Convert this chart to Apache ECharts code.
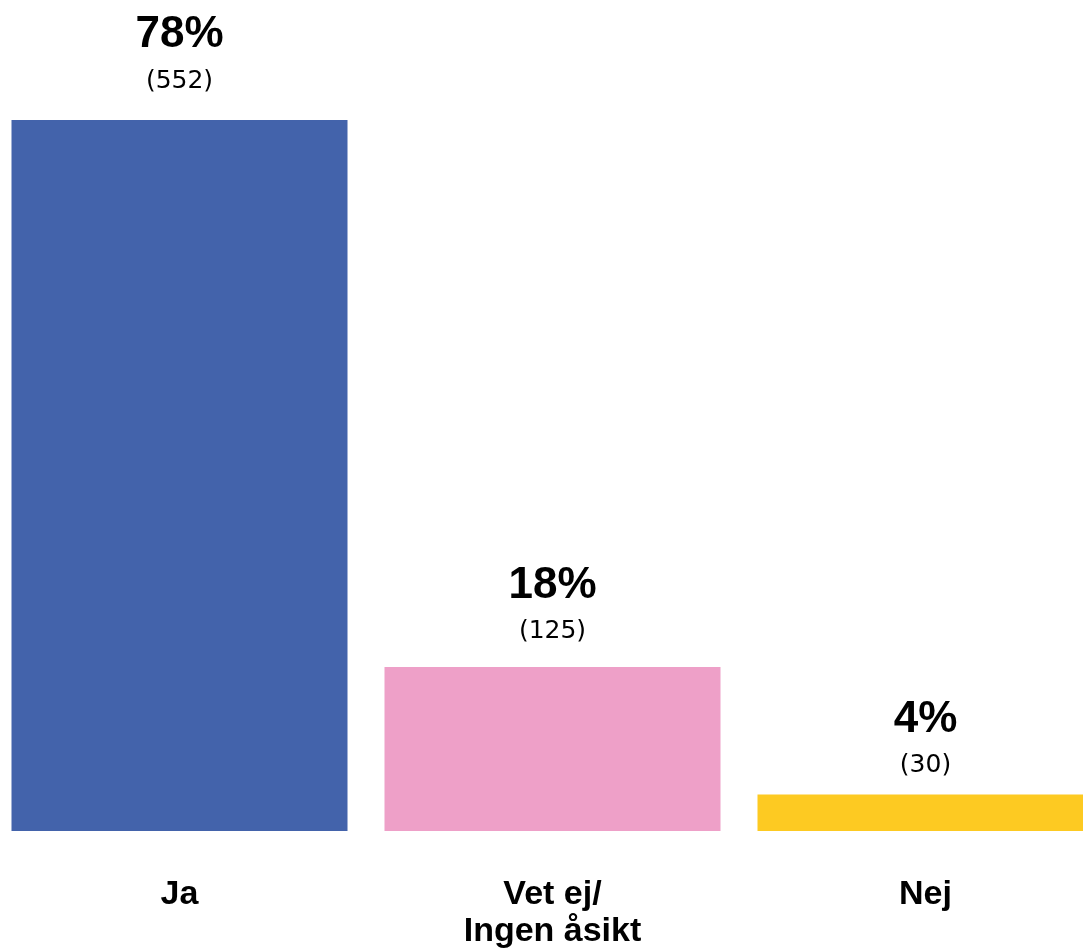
<!DOCTYPE html>
<html>
<head>
<meta charset="utf-8">
<script src="https://cdn.jsdelivr.net/npm/echarts@6/dist/echarts.min.js"></script>
<style>html,body{margin:0;padding:0;background:#fff;overflow:hidden;width:1083px;height:950px;}#c{position:absolute;left:-7px;top:0;width:1119px;height:950px;}</style>
</head>
<body>
<div id="c"></div>
<script>
const categories = ['Ja', 'Vet ej/\nIngen åsikt', 'Nej'];
const percents = [78, 18, 4];
const counts = [552, 125, 30];
const colors = ['#4363AB', '#EEA0C8', '#FDCA22'];
const labelGaps = [18, 14, 8];

const chart = echarts.init(document.getElementById('c'));
chart.setOption({
  animation: false,
  grid: { left: 0, right: 0, top: 120, bottom: 116, containLabel: false },
  xAxis: {
    type: 'category',
    data: categories,
    axisLine: { show: false },
    axisTick: { show: false },
    axisLabel: {
      interval: 0,
      margin: 45,
      fontFamily: 'Liberation Sans, Arial, sans-serif',
      fontWeight: 'bold',
      fontSize: 34,
      lineHeight: 37,
      color: '#000'
    }
  },
  yAxis: { type: 'value', min: 0, max: 78, show: false, splitLine: { show: false } },
  series: [{
    type: 'bar',
    barWidth: 336,
    data: percents.map((v, i) => ({
      value: v,
      itemStyle: { color: colors[i] },
      label: { distance: labelGaps[i] }
    })),
    label: {
      show: true,
      position: 'top',
      formatter: p => '{p|' + percents[p.dataIndex] + '%}\n{c|(' + counts[p.dataIndex] + ')}',
      rich: {
        p: { fontFamily: 'Liberation Sans, Arial, sans-serif', fontWeight: 'bold', fontSize: 44, lineHeight: 50, color: '#000' },
        c: { fontFamily: 'DejaVu Sans, sans-serif', fontSize: 25, lineHeight: 42, color: '#000' }
      }
    }
  }]
});
</script>
</body>
</html>
